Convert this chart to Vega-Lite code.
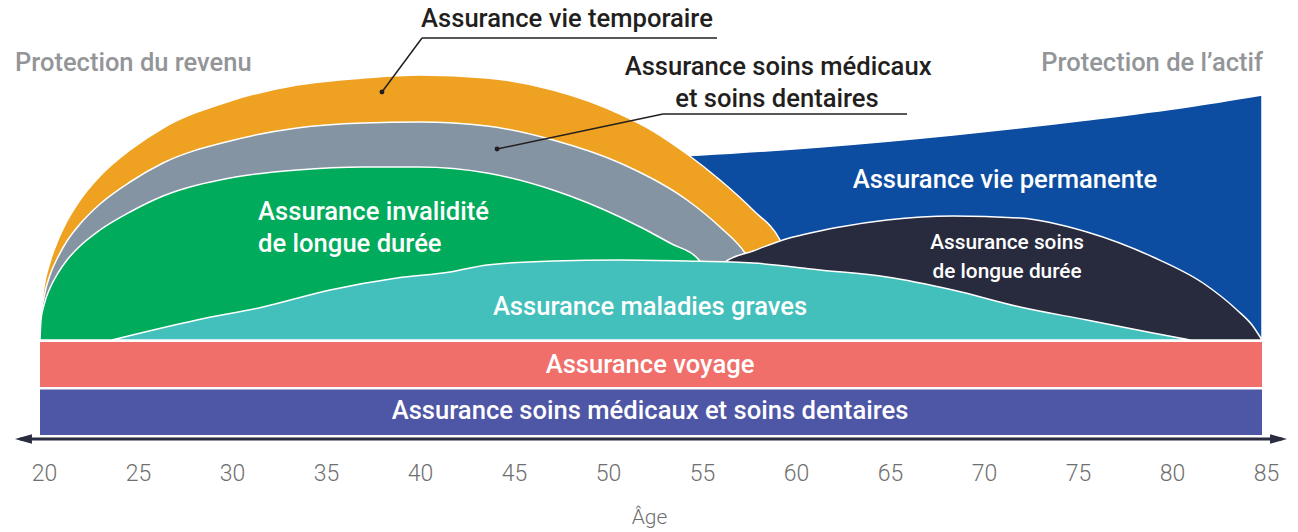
{
  "$schema": "https://vega.github.io/schema/vega-lite/v6.json",
  "width": 1298,
  "height": 439,
  "autosize": {"type": "none"},
  "padding": {"left": 0, "top": 0, "right": 0, "bottom": 93},
  "background": "white",
  "config": {"view": {"stroke": null}, "font": "Roboto, sans-serif"},
  "datasets": {
    "areas": [
      {"s": "blue", "age": 54.04, "v": 184}, {"s": "blue", "age": 55.11, "v": 185}, {"s": "blue", "age": 61.49, "v": 193}, {"s": "blue", "age": 68.56, "v": 205}, {"s": "blue", "age": 75.69, "v": 220}, {"s": "blue", "age": 81.01, "v": 233}, {"s": "blue", "age": 85.0, "v": 245},
      {"s": "orange", "age": 20.0, "v": 0}, {"s": "orange", "age": 20.053, "v": 28}, {"s": "orange", "age": 20.213, "v": 53}, {"s": "orange", "age": 20.532, "v": 78}, {"s": "orange", "age": 20.957, "v": 100}, {"s": "orange", "age": 21.436, "v": 119}, {"s": "orange", "age": 22.128, "v": 140}, {"s": "orange", "age": 23.191, "v": 164}, {"s": "orange", "age": 24.787, "v": 190}, {"s": "orange", "age": 26.543, "v": 212}, {"s": "orange", "age": 30.106, "v": 239}, {"s": "orange", "age": 33.67, "v": 255}, {"s": "orange", "age": 37.181, "v": 262}, {"s": "orange", "age": 40.213, "v": 265}, {"s": "orange", "age": 43.777, "v": 262}, {"s": "orange", "age": 47.287, "v": 250}, {"s": "orange", "age": 50.851, "v": 226}, {"s": "orange", "age": 52.606, "v": 209}, {"s": "orange", "age": 54.415, "v": 186}, {"s": "orange", "age": 56.17, "v": 160}, {"s": "orange", "age": 57.926, "v": 130}, {"s": "orange", "age": 59.362, "v": 100}, {"s": "orange", "age": 60.266, "v": 60}, {"s": "orange", "age": 60.691, "v": 0},
      {"s": "gray", "age": 20.0, "v": 0}, {"s": "gray", "age": 20.053, "v": 24}, {"s": "gray", "age": 20.213, "v": 43}, {"s": "gray", "age": 20.532, "v": 65}, {"s": "gray", "age": 20.957, "v": 83}, {"s": "gray", "age": 21.436, "v": 99}, {"s": "gray", "age": 22.128, "v": 116}, {"s": "gray", "age": 23.191, "v": 136}, {"s": "gray", "age": 24.787, "v": 158}, {"s": "gray", "age": 26.543, "v": 177}, {"s": "gray", "age": 30.106, "v": 199}, {"s": "gray", "age": 33.67, "v": 212}, {"s": "gray", "age": 37.181, "v": 217}, {"s": "gray", "age": 40.213, "v": 218}, {"s": "gray", "age": 43.777, "v": 214}, {"s": "gray", "age": 47.287, "v": 200}, {"s": "gray", "age": 50.851, "v": 177}, {"s": "gray", "age": 54.415, "v": 140}, {"s": "gray", "age": 56.17, "v": 113}, {"s": "gray", "age": 57.5, "v": 87}, {"s": "gray", "age": 58.56, "v": 50}, {"s": "gray", "age": 59.1, "v": 0},
      {"s": "green", "age": 20.0, "v": 0}, {"s": "green", "age": 20.053, "v": 20}, {"s": "green", "age": 20.213, "v": 35}, {"s": "green", "age": 20.532, "v": 52}, {"s": "green", "age": 20.957, "v": 67}, {"s": "green", "age": 21.436, "v": 80}, {"s": "green", "age": 22.128, "v": 94}, {"s": "green", "age": 23.191, "v": 110}, {"s": "green", "age": 24.787, "v": 128}, {"s": "green", "age": 26.543, "v": 144}, {"s": "green", "age": 30.106, "v": 162}, {"s": "green", "age": 33.67, "v": 170}, {"s": "green", "age": 37.181, "v": 173}, {"s": "green", "age": 40.213, "v": 173}, {"s": "green", "age": 43.777, "v": 167}, {"s": "green", "age": 47.287, "v": 150}, {"s": "green", "age": 50.851, "v": 123}, {"s": "green", "age": 53.511, "v": 97}, {"s": "green", "age": 55.106, "v": 79}, {"s": "green", "age": 55.9, "v": 40}, {"s": "green", "age": 56.17, "v": 0},
      {"s": "navy", "age": 55.75, "v": 0}, {"s": "navy", "age": 56.06, "v": 50}, {"s": "navy", "age": 56.44, "v": 78}, {"s": "navy", "age": 57.93, "v": 89}, {"s": "navy", "age": 59.36, "v": 99}, {"s": "navy", "age": 62.55, "v": 113}, {"s": "navy", "age": 65.05, "v": 120}, {"s": "navy", "age": 68.56, "v": 124}, {"s": "navy", "age": 72.13, "v": 122}, {"s": "navy", "age": 75.69, "v": 108}, {"s": "navy", "age": 79.2, "v": 83}, {"s": "navy", "age": 81.86, "v": 57}, {"s": "navy", "age": 83.67, "v": 30}, {"s": "navy", "age": 84.47, "v": 15}, {"s": "navy", "age": 85.0, "v": 0},
      {"s": "teal", "age": 23.83, "v": 0}, {"s": "teal", "age": 28.35, "v": 20}, {"s": "teal", "age": 31.86, "v": 33}, {"s": "teal", "age": 35.43, "v": 50}, {"s": "teal", "age": 38.99, "v": 62}, {"s": "teal", "age": 41.81, "v": 68}, {"s": "teal", "age": 43.78, "v": 75}, {"s": "teal", "age": 47.29, "v": 79}, {"s": "teal", "age": 50.85, "v": 80}, {"s": "teal", "age": 54.41, "v": 79}, {"s": "teal", "age": 57.93, "v": 77}, {"s": "teal", "age": 61.49, "v": 70}, {"s": "teal", "age": 65.05, "v": 63}, {"s": "teal", "age": 68.56, "v": 50}, {"s": "teal", "age": 72.13, "v": 33}, {"s": "teal", "age": 75.69, "v": 20}, {"s": "teal", "age": 79.2, "v": 7}, {"s": "teal", "age": 81.17, "v": 0}
    ],
    "bands": [
      {"s": "Assurance voyage", "age": 20, "age2": 85, "v": -2, "v2": -47},
      {"s": "Assurance soins médicaux et soins dentaires", "age": 20, "age2": 85, "v": -49.5, "v2": -95}
    ],
    "texts": [
      {"g": "big", "label": "Assurance vie permanente", "age": 71.33, "v": 160},
      {"g": "big", "label": "Assurance maladies graves", "age": 52.45, "v": 33},
      {"g": "big", "label": "Assurance voyage", "age": 52.45, "v": -25},
      {"g": "big", "label": "Assurance soins médicaux et soins dentaires", "age": 52.45, "v": -71},
      {"g": "left", "label": "Assurance invalidité", "age": 31.6, "v": 128},
      {"g": "left", "label": "de longue durée", "age": 31.6, "v": 96},
      {"g": "small", "label": "Assurance soins", "age": 71.44, "v": 97},
      {"g": "small", "label": "de longue durée", "age": 71.44, "v": 68},
      {"g": "dark", "label": "Assurance vie temporaire", "age": 48.03, "v": 321},
      {"g": "dark", "label": "Assurance soins médicaux", "age": 59.26, "v": 273},
      {"g": "dark", "label": "et soins dentaires", "age": 59.2, "v": 241},
      {"g": "headL", "label": "Protection du revenu", "age": 18.67, "v": 277},
      {"g": "headR", "label": "Protection de l’actif", "age": 85.05, "v": 277}
    ],
    "leaders": [
      {"age": 40.32, "age2": 56.01, "v": 302, "v2": 302},
      {"age": 40.32, "age2": 38.19, "v": 302, "v2": 248},
      {"age": 53.14, "age2": 66.12, "v": 226, "v2": 226},
      {"age": 53.14, "age2": 44.31, "v": 226, "v2": 191}
    ],
    "dots": [
      {"age": 38.19, "v": 248},
      {"age": 44.31, "v": 191}
    ],
    "axisline": [{"age": 18.94, "age2": 86.07, "v": -99}],
    "arrowL": [{"age": 19.12, "v": -99}],
    "arrowR": [{"age": 85.88, "v": -99}]
  },
  "encoding": {
    "x": {
      "field": "age", "type": "quantitative",
      "scale": {"domain": [17.872, 86.915], "nice": false, "zero": false},
      "axis": {
        "title": "Âge", "values": [20, 25, 30, 35, 40, 45, 50, 55, 60, 65, 70, 75, 80, 85],
        "domain": false, "ticks": false, "grid": false,
        "labelFontSize": 23, "labelColor": "#6f6f6f", "labelPadding": 23, "labelFontWeight": 300, "labelOffset": 4,
        "titleFontSize": 21, "titleColor": "#6f6f6f", "titleFontWeight": 300, "titlePadding": 21
      }
    },
    "y": {"field": "v", "type": "quantitative", "scale": {"domain": [-99, 340], "nice": false, "zero": false}, "axis": null}
  },
  "layer": [
    {"data": {"name": "areas"}, "transform": [{"filter": "datum.s === 'blue'"}], "mark": {"type": "area", "color": "#0D4DA1", "stroke": "white", "strokeWidth": 1.5, "interpolate": "monotone"}, "encoding": {"y2": {"datum": 0}}},
    {"data": {"name": "areas"}, "transform": [{"filter": "datum.s === 'orange'"}], "mark": {"type": "area", "color": "#EFA221", "stroke": "white", "strokeWidth": 1.5, "interpolate": "monotone"}, "encoding": {"y2": {"datum": 0}}},
    {"data": {"name": "areas"}, "transform": [{"filter": "datum.s === 'gray'"}], "mark": {"type": "area", "color": "#8494A3", "stroke": "white", "strokeWidth": 1.5, "interpolate": "monotone"}, "encoding": {"y2": {"datum": 0}}},
    {"data": {"name": "areas"}, "transform": [{"filter": "datum.s === 'green'"}], "mark": {"type": "area", "color": "#00AB5B", "stroke": "white", "strokeWidth": 1.5, "interpolate": "monotone"}, "encoding": {"y2": {"datum": 0}}},
    {"data": {"name": "areas"}, "transform": [{"filter": "datum.s === 'navy'"}], "mark": {"type": "area", "color": "#282A3D", "stroke": "white", "strokeWidth": 1.5, "interpolate": "monotone"}, "encoding": {"y2": {"datum": 0}}},
    {"data": {"name": "areas"}, "transform": [{"filter": "datum.s === 'teal'"}], "mark": {"type": "area", "color": "#43C0BC", "stroke": "white", "strokeWidth": 1.5, "interpolate": "monotone"}, "encoding": {"y2": {"datum": 0}}},
    {"data": {"name": "bands"}, "mark": {"type": "rect"}, "encoding": {"x2": {"field": "age2"}, "y2": {"field": "v2"}, "color": {"field": "s", "type": "nominal", "scale": {"domain": ["Assurance voyage", "Assurance soins médicaux et soins dentaires"], "range": ["#F06F6B", "#4E56A6"]}, "legend": null}}},
    {"data": {"name": "leaders"}, "mark": {"type": "rule", "color": "#231F20", "strokeWidth": 1.5}, "encoding": {"x2": {"field": "age2"}, "y2": {"field": "v2"}}},
    {"data": {"name": "dots"}, "mark": {"type": "point", "filled": true, "color": "#231F20", "size": 24, "opacity": 1}, "encoding": {}},
    {"data": {"name": "axisline"}, "mark": {"type": "rule", "color": "#2A2C40", "strokeWidth": 3}, "encoding": {"x2": {"field": "age2"}}},
    {"data": {"name": "arrowL"}, "mark": {"type": "point", "filled": true, "color": "#2A2C40", "opacity": 1, "size": 289, "shape": "M -1 0 L 1 -0.55 L 1 0.55 Z"}, "encoding": {}},
    {"data": {"name": "arrowR"}, "mark": {"type": "point", "filled": true, "color": "#2A2C40", "opacity": 1, "size": 289, "shape": "M 1 0 L -1 -0.55 L -1 0.55 Z"}, "encoding": {}},
    {"data": {"name": "texts"}, "transform": [{"filter": "datum.g === 'big'"}], "mark": {"type": "text", "color": "white", "fontSize": 25.6, "fontWeight": 500, "align": "center", "baseline": "middle"}, "encoding": {"text": {"field": "label"}}},
    {"data": {"name": "texts"}, "transform": [{"filter": "datum.g === 'left'"}], "mark": {"type": "text", "color": "white", "fontSize": 25.6, "fontWeight": 500, "align": "left", "baseline": "middle"}, "encoding": {"text": {"field": "label"}}},
    {"data": {"name": "texts"}, "transform": [{"filter": "datum.g === 'small'"}], "mark": {"type": "text", "color": "white", "fontSize": 20.8, "fontWeight": 500, "align": "center", "baseline": "middle"}, "encoding": {"text": {"field": "label"}}},
    {"data": {"name": "texts"}, "transform": [{"filter": "datum.g === 'dark'"}], "mark": {"type": "text", "color": "#231F20", "fontSize": 25.6, "fontWeight": 500, "align": "center", "baseline": "middle"}, "encoding": {"text": {"field": "label"}}},
    {"data": {"name": "texts"}, "transform": [{"filter": "datum.g === 'headL'"}], "mark": {"type": "text", "color": "#939598", "fontSize": 25.5, "fontWeight": 500, "align": "left", "baseline": "middle"}, "encoding": {"text": {"field": "label"}}},
    {"data": {"name": "texts"}, "transform": [{"filter": "datum.g === 'headR'"}], "mark": {"type": "text", "color": "#939598", "fontSize": 25.5, "fontWeight": 500, "align": "right", "baseline": "middle"}, "encoding": {"text": {"field": "label"}}}
  ]
}
